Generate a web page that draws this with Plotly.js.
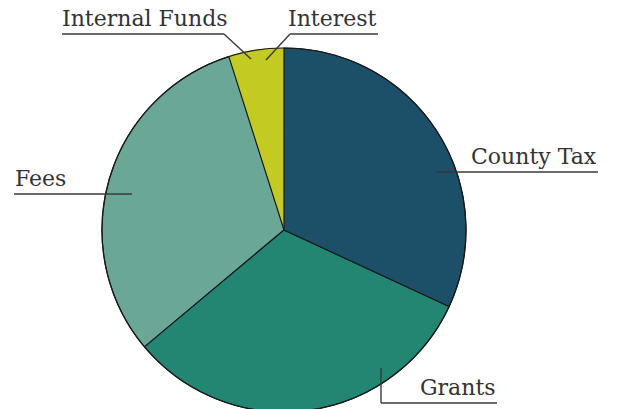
<!DOCTYPE html>
<html><head><meta charset="utf-8">
<script src="https://cdn.plot.ly/plotly-3.0.1.min.js"></script>
<style>html,body{margin:0;padding:0;overflow:hidden;background:#fff}#c{width:618px;height:420px}</style>
</head><body><div id="c"></div>
<script>
const categories = ["Interest", "Internal Funds", "Fees", "Grants", "County Tax"];
const values = [2.4, 2.5, 31.2, 32.0, 31.9];
const colors = ["#c3cb22", "#c3cb22", "#6aa797", "#238673", "#1b5068"];

const W = 618, H = 420, T = 48, B = 8;
const PH = H - T - B;
const px = x => x / W;
const py = y => (H - B - y) / PH;
const total = values.reduce((a, b) => a + b, 0);

const lineColor = "#3a3a3a";
const edge = "#1a1a1a";
const font = {family: "DejaVu Serif", size: 22, color: "#333333"};

const pie = {
  type: "pie", values: values, labels: categories, sort: false,
  direction: "counterclockwise", rotation: -values[0] / total * 360,
  textinfo: "none", hoverinfo: "label+percent",
  marker: {colors: colors, line: {color: [colors[0], colors[1], edge, edge, edge], width: [1, 1, 1.2, 1.2, 1.2]}},
  domain: {x: [102 / W, 466 / W], y: [0, 1]}, showlegend: false
};
const outline = {
  type: "pie", values: [1], labels: [""], sort: false, textinfo: "none", hoverinfo: "skip",
  marker: {colors: ["rgba(0,0,0,0)"], line: {color: edge, width: 1.2}},
  domain: {x: [102 / W, 466 / W], y: [0, 1]}, showlegend: false
};

function seg(x0, y0, x1, y1) {
  return {type: "line", xref: "paper", yref: "paper", x0: px(x0), y0: py(y0), x1: px(x1), y1: py(y1),
    line: {color: lineColor, width: 1.4}, layer: "above"};
}
const shapes = [
  seg(436, 172, 598, 172),
  seg(14, 194, 132, 194),
  seg(381, 368, 381, 403), seg(381, 403, 497, 403),
  seg(62, 34, 224, 34), seg(224, 34, 251, 59),
  seg(290, 34, 378, 34), seg(290, 34, 266, 60)
];
function lab(text, x, y, anchor) {
  return {text: text, xref: "paper", yref: "paper", x: px(x), y: py(y), xanchor: anchor, yanchor: "bottom",
    showarrow: false, font: font, yshift: 1};
}
const annotations = [
  lab("County Tax", 599, 172, "right"),
  lab("Fees", 13, 194, "left"),
  lab("Grants", 498, 403, "right"),
  lab("Internal Funds", 60, 34, "left"),
  lab("Interest", 379, 34, "right")
];

Plotly.newPlot("c", [pie, outline], {
  width: W, height: H, margin: {l: 0, r: 0, t: T, b: B},
  paper_bgcolor: "#ffffff", shapes: shapes, annotations: annotations
}, {staticPlot: true});
</script></body></html>
